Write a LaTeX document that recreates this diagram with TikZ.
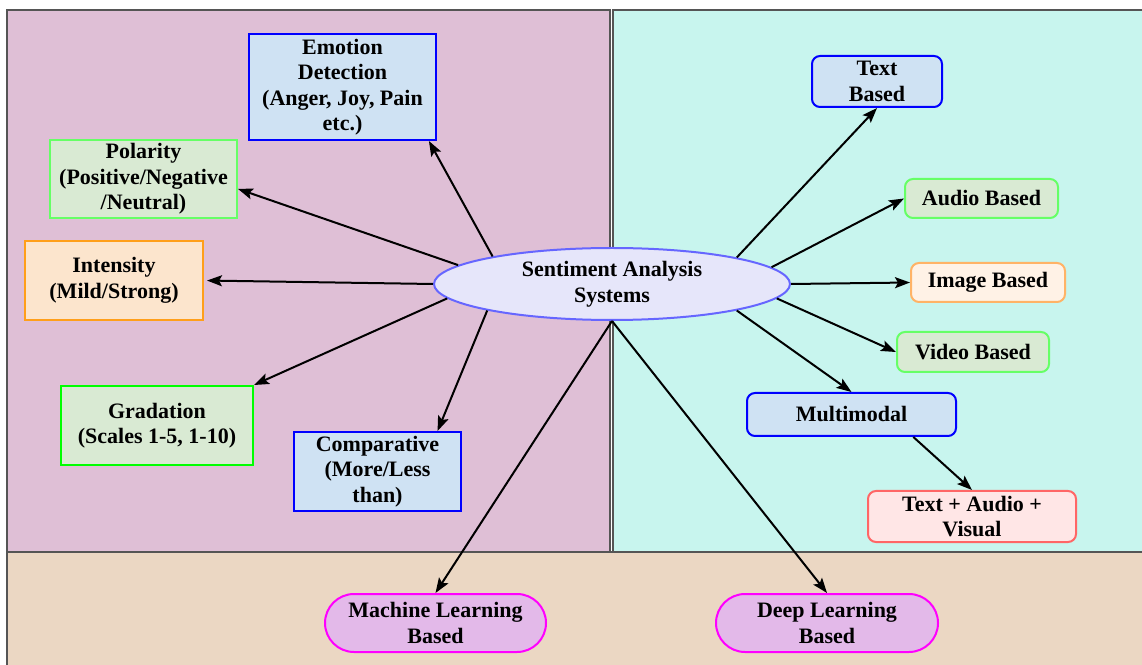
\documentclass[tikz,border=0pt]{standalone}
\usepackage{fontspec}
\setmainfont{Liberation Serif}
\usetikzlibrary{arrows.meta,shapes.geometric}
\definecolor{panelL}{HTML}{DFBFD6}
\definecolor{panelR}{HTML}{C8F5EE}
\definecolor{panelB}{HTML}{EBD7C3}
\definecolor{panelLine}{HTML}{555555}
\definecolor{blueFill}{HTML}{CFE2F3}
\definecolor{greenFill}{HTML}{D9EAD3}
\definecolor{orangeFill}{HTML}{FCE5CD}
\definecolor{peachFill}{HTML}{FFF2E6}
\definecolor{pinkFill}{HTML}{FFE6E6}
\definecolor{violetFill}{HTML}{E3B9E9}
\definecolor{lavFill}{HTML}{E6E6FA}
\definecolor{lavLine}{HTML}{6666FF}
\definecolor{pureBlue}{HTML}{0000FF}
\definecolor{pureGreen}{HTML}{00FF00}
\definecolor{pureMagenta}{HTML}{FF00FF}
\definecolor{lightGreen}{HTML}{66FF66}
\definecolor{deepOrange}{HTML}{FF9F1A}
\definecolor{lightOrange}{HTML}{FFB366}
\definecolor{lightRed}{HTML}{FF6666}
\begin{document}
\begin{tikzpicture}[x=1pt,y=1pt,
  lbl/.style={font=\bfseries\fontsize{22}{25.5}\selectfont, align=center,
    inner sep=0pt, line width=2pt, text=black},
  sqbox/.style={lbl, rectangle},
  rbox/.style={lbl, rectangle, rounded corners=8pt},
  pill/.style={lbl, rectangle, rounded corners=29pt},
  sz/.style 2 args={minimum width=#1, minimum height=#2},
  bluebox/.style={fill=blueFill, draw=pureBlue},
  arr/.style={line width=2pt, -{Stealth[length=15pt,width=11pt,inset=3pt]}},
  panel/.style={draw=panelLine, line width=1.5pt}
]
\useasboundingbox (0,0) rectangle (1142,664);
\fill[white] (0,0) rectangle (1142,664);

% background regions
\draw[panel, fill=panelB] (7,-5) rectangle (1150,112);
\draw[panel, fill=panelL] (7,112) rectangle (610,654);
\draw[panel, fill=panelR] (613,112) rectangle (1150,654);

% central node
\node[lbl, ellipse, fill=lavFill, draw=lavLine, sz={356pt}{72pt}] (sa) at (612,380)
  {Sentiment Analysis\\Systems};

% left side: sentiment dimensions
\node[sqbox, bluebox, sz={187pt}{106pt}] (emo) at (342.5,577)
  {Emotion\\Detection\\(Anger, Joy, Pain\\etc.)};
\node[sqbox, fill=greenFill, draw=lightGreen, sz={187pt}{78pt}] (pol) at (143.5,485)
  {Polarity\\(Positive/Negative\\/Neutral)};
\node[sqbox, fill=orangeFill, draw=deepOrange, sz={178pt}{79pt}] (int) at (114,383.5)
  {Intensity\\(Mild/Strong)};
\node[sqbox, fill=greenFill, draw=pureGreen, sz={192pt}{79pt}] (grad) at (157,238.5)
  {Gradation\\(Scales 1-5, 1-10)};
\node[sqbox, bluebox, sz={167pt}{79pt}] (comp) at (377.5,192.5)
  {Comparative\\(More/Less\\than)};

% right side: modalities
\node[rbox, bluebox, sz={130pt}{51pt}] (txt) at (877,582.5) {Text\\Based};
\node[rbox, fill=greenFill, draw=lightGreen, sz={153pt}{39pt}] (aud) at (981.5,465.5) {Audio Based};
\node[rbox, fill=peachFill, draw=lightOrange, sz={154pt}{39pt}] (img) at (988,381.5) {Image Based};
\node[rbox, fill=greenFill, draw=lightGreen, sz={152pt}{40pt}] (vid) at (973,312) {Video Based};
\node[rbox, bluebox, sz={209pt}{43pt}] (mm) at (851.5,249.5) {Multimodal};
\node[rbox, fill=pinkFill, draw=lightRed, sz={208pt}{51pt}] (tav) at (972,147.5)
  {Text + Audio +\\Visual};

% bottom: techniques
\node[pill, fill=violetFill, draw=pureMagenta, sz={221pt}{58pt}] (ml) at (435.5,41)
  {Machine Learning\\Based};
\node[pill, fill=violetFill, draw=pureMagenta, sz={222pt}{58pt}] (dl) at (827,41)
  {Deep Learning\\Based};

% connectors
\draw[arr] (sa.167.5) -- (emo.-32);
\draw[arr] (sa.173.6) -- (pol.-6.6);
\draw[arr, shorten >=3pt] (sa.180) -- (int.east);
\draw[arr] (sa.185.7) -- (grad.north east);
\draw[arr] (sa.192.2) -- (comp.34);
\draw[arr] (sa.south) -- (ml.north);
\draw[arr] (sa.south) -- (dl.north);
\draw[arr] (sa.12.6) -- (txt.south);
\draw[arr] (sa.6.9) -- (aud.west);
\draw[arr] (sa.0) -- (img.west);
\draw[arr] (sa.-5.6) -- (vid.west);
\draw[arr] (sa.-12.1) -- (mm.north);
\draw[arr] (mm.-20.8) -- (tav.north);
\end{tikzpicture}
\end{document}
